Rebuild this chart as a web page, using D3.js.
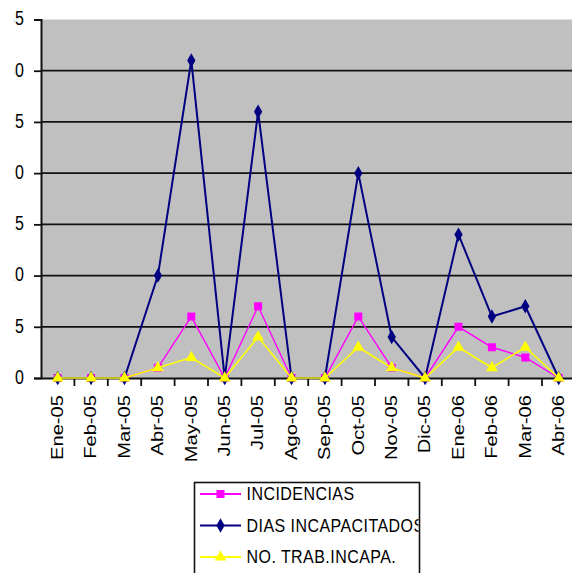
<!DOCTYPE html>
<html>
<head>
<meta charset="utf-8">
<script src="https://cdn.jsdelivr.net/npm/d3@7"></script>
<style>
body { margin: 0; background: #fff; }
svg { display: block; font-family: "Liberation Sans", Arial, sans-serif; }
</style>
</head>
<body>
<svg id="chart" width="572" height="573"></svg>
<script>
var months = ["Ene-05", "Feb-05", "Mar-05", "Abr-05", "May-05", "Jun-05", "Jul-05", "Ago-05",
    "Sep-05", "Oct-05", "Nov-05", "Dic-05", "Ene-06", "Feb-06", "Mar-06", "Abr-06"];
var incidencias = [0, 0, 0, 1, 6, 0, 7, 0, 0, 6, 1, 0, 5, 3, 2, 0];
var diasIncapacitados = [0, 0, 0, 10, 31, 0, 26, 0, 0, 20, 4, 0, 14, 6, 7, 0];
var noTrabIncapa = [0, 0, 0, 1, 2, 0, 4, 0, 0, 3, 1, 0, 3, 1, 3, 0];
var yTicks = [0, 5, 10, 15, 20, 25, 30, 35];
var seriesNames = ["INCIDENCIAS", "DIAS INCAPACITADOS", "NO. TRAB.INCAPA."];

var svg = d3.select('#chart');

var margin = {top: 19.5, left: 41, bottom: 378};
var band = 33.4;

var xScale = d3.scaleBand()
    .domain(months)
    .range([margin.left, margin.left + band * months.length]);

var yScale = d3.scaleLinear()
    .domain([0, 35])
    .range([margin.bottom, margin.top]);

// plot background
svg.append("rect")
    .attr("x", margin.left)
    .attr("y", margin.top)
    .attr("width", xScale.range()[1] - margin.left)
    .attr("height", margin.bottom - margin.top)
    .style("fill", "#c0c0c0");

// gridlines
svg.append("g")
    .selectAll("line")
    .data(yTicks.filter(function(d){ return d > 0 && d < 35; }))
    .enter()
    .append("line")
    .attr("x1", margin.left)
    .attr("x2", xScale.range()[1])
    .attr("y1", function(d){ return yScale(d); })
    .attr("y2", function(d){ return yScale(d); })
    .style("stroke", "#111")
    .style("stroke-width", 1.8);

// y axis
var yAxis = d3.axisLeft(yScale).tickValues(yTicks).tickSize(7).tickFormat("");
var yg = svg.append("g")
    .attr("transform", "translate(" + margin.left + ",0)")
    .call(yAxis);
yg.select(".domain").style("stroke", "#111").style("stroke-width", 2);
yg.selectAll(".tick line").style("stroke", "#111").style("stroke-width", 1.8);

// y labels (left digit cropped off like the original)
svg.append("clipPath").attr("id", "ylabclip")
    .append("rect").attr("x", 14.3).attr("y", 0).attr("width", 30).attr("height", 400);

svg.append("g")
    .attr("clip-path", "url(#ylabclip)")
    .selectAll("text")
    .data(yTicks)
    .enter()
    .append("text")
    .attr("transform", function(d){
        return "translate(23.8," + (yScale(d) - 1.5) + ") scale(1,1.3)";})
    .attr("text-anchor", "end")
    .attr("dominant-baseline", "central")
    .style("font-size", "16px")
    .style("fill", "#000")
    .text(function(d){ return d; });

// x axis
var xAxis = d3.axisBottom(xScale).tickSize(0).tickFormat("");
var xg = svg.append("g")
    .attr("transform", "translate(0," + margin.bottom + ")")
    .call(xAxis);
xg.select(".domain").style("stroke", "#111").style("stroke-width", 2);

svg.append("g")
    .selectAll("line")
    .data(months.slice(1))
    .enter()
    .append("line")
    .attr("x1", function(d){ return xScale(d); })
    .attr("x2", function(d){ return xScale(d); })
    .attr("y1", margin.bottom)
    .attr("y2", margin.bottom + 8)
    .style("stroke", "#111")
    .style("stroke-width", 1.8);

svg.append("g")
    .selectAll("text")
    .data(months)
    .enter()
    .append("text")
    .attr("transform", function(d){
        return "translate(" + (xScale(d) + band / 2) + ",395) rotate(-90) scale(1.26,1)";})
    .attr("text-anchor", "end")
    .attr("dominant-baseline", "central")
    .style("font-size", "16px")
    .style("fill", "#000")
    .text(function(d){ return d; });

// series
var series = [
    {name: seriesNames[0], values: incidencias, color: "#ff00ff", width: 1.4, symbol: d3.symbolSquare, size: 64},
    {name: seriesNames[1], values: diasIncapacitados, color: "#000080", width: 2, symbol: d3.symbolDiamond, size: 60},
    {name: seriesNames[2], values: noTrabIncapa, color: "#ffff00", width: 1.6, symbol: d3.symbolTriangle, size: 60}
];

var line = d3.line()
    .x(function(d, i){ return xScale(months[i]) + band / 2; })
    .y(function(d){ return yScale(d); });

svg.append("clipPath").attr("id", "plotclip")
    .append("rect").attr("x", 0).attr("y", 0).attr("width", 572).attr("height", 390);

var plot = svg.append("g").attr("clip-path", "url(#plotclip)");

series.forEach(function(s) {
    plot.append("path")
        .attr("d", line(s.values))
        .style("fill", "none")
        .style("stroke", s.color)
        .style("stroke-width", s.width);

    plot.selectAll(null)
        .data(s.values)
        .enter()
        .append("path")
        .attr("d", d3.symbol().type(s.symbol).size(s.size))
        .attr("transform", function(d, i){
            return "translate(" + (xScale(months[i]) + band / 2) + "," + yScale(d) + ")";})
        .style("fill", s.color);
});

// legend
var legend = svg.append("g");
legend.append("rect")
    .attr("x", 194.5)
    .attr("y", 482.5)
    .attr("width", 225)
    .attr("height", 120)
    .style("fill", "#fff")
    .style("stroke", "#111")
    .style("stroke-width", 1.6);

svg.append("clipPath").attr("id", "legclip")
    .append("rect").attr("x", 195).attr("y", 483).attr("width", 223.5).attr("height", 120);

var rowY = [494, 525.5, 557];
var items = legend.append("g").attr("clip-path", "url(#legclip)")
    .selectAll("g")
    .data(series)
    .enter()
    .append("g")
    .attr("transform", function(d, i){ return "translate(0," + rowY[i] + ")"; });

items.append("line")
    .attr("x1", 200).attr("x2", 241)
    .attr("y1", 0).attr("y2", 0)
    .style("stroke", function(d){ return d.color; })
    .style("stroke-width", 1.8);

items.append("path")
    .attr("d", function(d){ return d3.symbol().type(d.symbol).size(d.size)(); })
    .attr("transform", "translate(220.5,0)")
    .style("fill", function(d){ return d.color; });

items.append("text")
    .attr("transform", "translate(246.5,0) scale(1,1.15)")
    .attr("dominant-baseline", "central")
    .style("font-size", "16px")
    .style("letter-spacing", "0.45px")
    .style("fill", "#000")
    .text(function(d){ return d.name; });
</script>
</body>
</html>
